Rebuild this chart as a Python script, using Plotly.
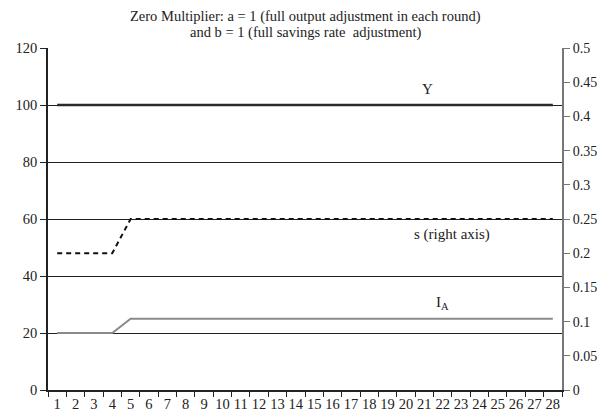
import plotly.graph_objects as go

rounds = [str(i) for i in range(1, 29)]
output_y = [100, 100, 100, 100, 100, 100, 100, 100, 100, 100, 100, 100, 100, 100,
            100, 100, 100, 100, 100, 100, 100, 100, 100, 100, 100, 100, 100, 100]
invest_a = [20, 20, 20, 20, 25, 25, 25, 25, 25, 25, 25, 25, 25, 25,
            25, 25, 25, 25, 25, 25, 25, 25, 25, 25, 25, 25, 25, 25]
savings_s = [0.2, 0.2, 0.2, 0.2, 0.25, 0.25, 0.25, 0.25, 0.25, 0.25, 0.25, 0.25, 0.25, 0.25,
             0.25, 0.25, 0.25, 0.25, 0.25, 0.25, 0.25, 0.25, 0.25, 0.25, 0.25, 0.25, 0.25, 0.25]

serif = 'Liberation Serif'

fig = go.Figure()
fig.add_trace(go.Scatter(x=rounds, y=output_y, mode='lines',
                         line=dict(color='#2b2b2b', width=2.5), showlegend=False))
fig.add_trace(go.Scatter(x=rounds, y=invest_a, mode='lines',
                         line=dict(color='#8a8a8a', width=2), showlegend=False))
fig.add_trace(go.Scatter(x=rounds, y=savings_s, mode='lines', yaxis='y2',
                         line=dict(color='#111111', width=2, dash='5px,4px'), showlegend=False))

# page body has an 8px margin, so the figure is a bit smaller and shifted
fig.update_layout(
    width=597, height=407,
    margin=dict(l=40, r=43, t=40, b=25, autoexpand=False),
    paper_bgcolor='white', plot_bgcolor='white',
    font=dict(family=serif, size=14, color='#222'),
    xaxis=dict(type='category', range=[-0.5, 27.5], tickson='boundaries',
               tickmode='array', tickvals=rounds, ticktext=rounds,
               ticks='outside', ticklen=5, tickcolor='#222',
               showline=True, linecolor='#222', linewidth=1.5,
               showgrid=False, zeroline=False, tickangle=0,
               tickfont=dict(size=14.5)),
    yaxis=dict(range=[0, 120], dtick=20, ticks='outside', ticklen=6, tickcolor='#222',
               showline=True, linecolor='#222', linewidth=1.5,
               showgrid=True, gridcolor='#222', gridwidth=1, zeroline=False,
               tickfont=dict(size=14.5)),
    yaxis2=dict(range=[0, 0.5], dtick=0.05, overlaying='y', side='right',
                ticks='outside', ticklen=6, tickcolor='#777',
                showline=True, linecolor='#777', linewidth=2,
                showgrid=False, zeroline=False, tickfont=dict(size=14)),
    annotations=[
        # title as two centred lines
        dict(x=0.5, y=1, xref='paper', yref='paper', yshift=32, yanchor='middle', showarrow=False,
             text='Zero Multiplier: a = 1 (full output adjustment in each round)',
             font=dict(family=serif, size=14.5)),
        dict(x=0.5, y=1, xref='paper', yref='paper', yshift=16, yanchor='middle', showarrow=False,
             text='and b = 1 (full savings rate  adjustment)',
             font=dict(family=serif, size=14.5)),
        dict(x=20.2, y=105.6, xref='x', yref='y', text='Y', showarrow=False,
             font=dict(family=serif, size=15)),
        dict(x=21.5, y=54.4, xref='x', yref='y', text='s (right axis)', showarrow=False,
             font=dict(family=serif, size=15)),
        dict(x=21.0, y=30.5, xref='x', yref='y', text='I<sub>A</sub>', showarrow=False,
             font=dict(family=serif, size=15)),
    ],
)

fig.write_html('out.html')
